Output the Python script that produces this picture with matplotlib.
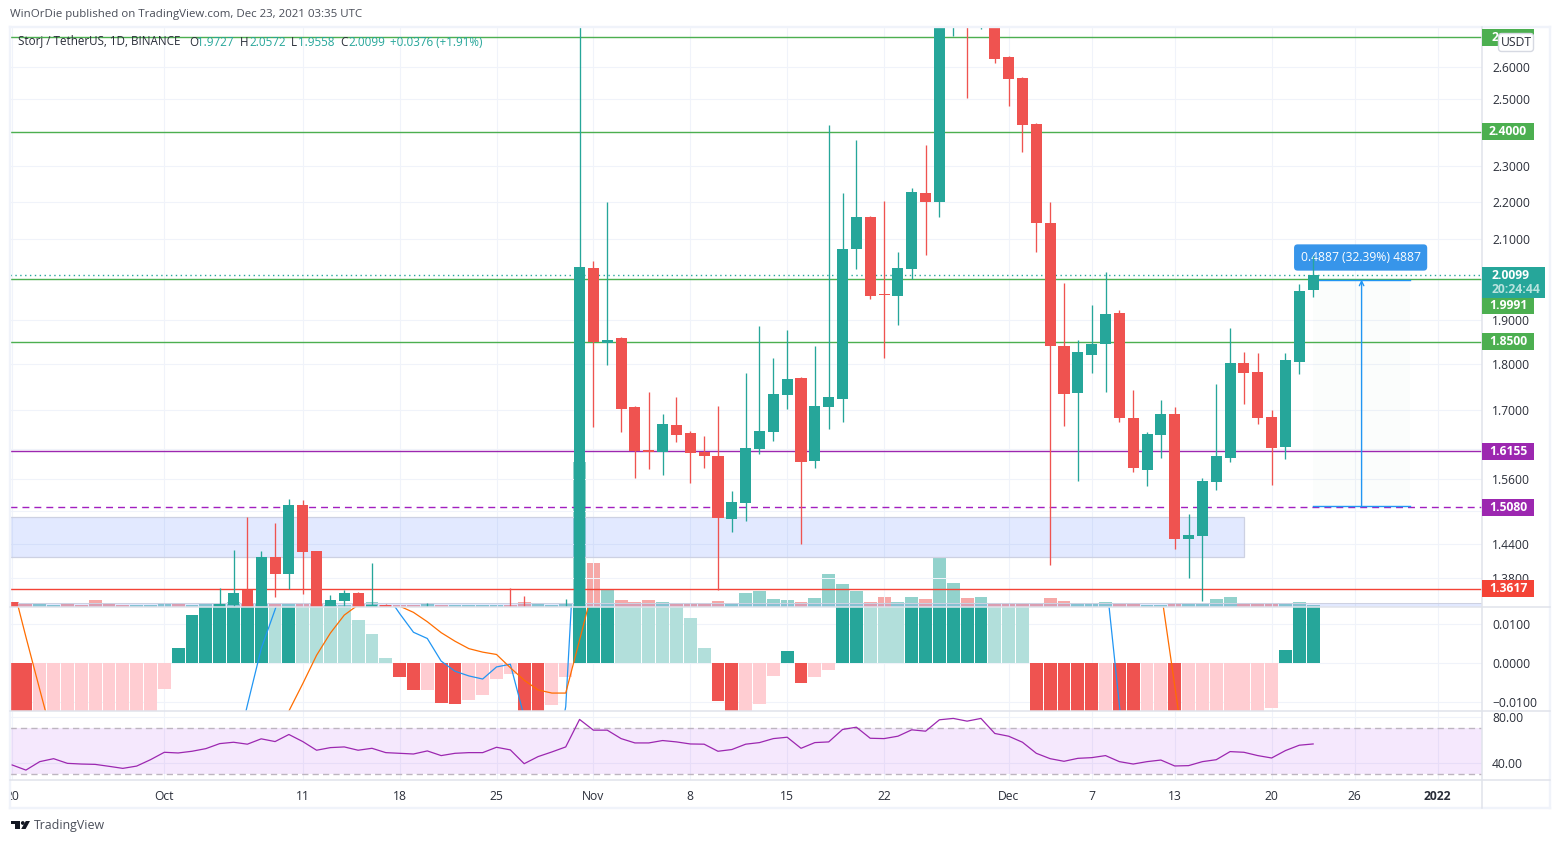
import numpy as np
import pandas as pd
import matplotlib
matplotlib.use('Agg')
import matplotlib.pyplot as plt
from matplotlib.lines import Line2D
from matplotlib.patches import Rectangle, Polygon, Circle, FancyBboxPatch
from matplotlib.ticker import NullLocator
from matplotlib.transforms import Affine2D, blended_transform_factory

plt.rcParams['font.family'] = ['Open Sans', 'DejaVu Sans']

# candles that show in the price pane (values under 1.33 sit below the pane)
candle_dates = (['2021-09-20']
                + list(pd.date_range('2021-10-05', '2021-10-17'))
                + ['2021-10-20', '2021-10-26', '2021-10-27', '2021-10-30', '2021-10-31']
                + list(pd.date_range('2021-11-01', '2021-12-23')))

opens = [1.340,
         1.31, 1.335, 1.360, 1.31, 1.417, 1.387, 1.511, 1.427, 1.32, 1.342, 1.355, 1.32, 1.335,
         1.31, 1.32, 1.32, 1.31, 1.32,
         2.027, 1.847, 1.858, 1.706, 1.618, 1.614, 1.668, 1.652, 1.614, 1.606,
         1.485, 1.515, 1.620, 1.654, 1.732, 1.769, 1.596, 1.706, 1.723, 2.075,
         2.159, 1.962, 1.957, 2.024, 2.224, 2.200, 2.78, 2.85, 2.78, 2.85,
         2.632, 2.565, 2.423, 2.143, 1.840, 1.736, 1.820, 1.845, 1.917, 1.683,
         1.578, 1.648, 1.691, 1.449, 1.454, 1.555, 1.602, 1.802, 1.782, 1.685,
         1.624, 1.804, 1.9727]
highs = [1.340,
         1.363, 1.429, 1.489, 1.427, 1.478, 1.522, 1.520, 1.428, 1.352, 1.360, 1.357, 1.406, 1.337,
         1.338, 1.363, 1.350, 1.345, 2.80,
         2.044, 2.200, 1.860, 1.708, 1.738, 1.691, 1.727, 1.656, 1.646, 1.708,
         1.538, 1.780, 1.886, 1.813, 1.877, 1.771, 1.840, 2.420, 2.224, 2.375,
         2.162, 2.202, 2.067, 2.238, 2.360, 2.90, 2.90, 2.90, 2.90, 2.90,
         2.636, 2.567, 2.426, 2.200, 1.989, 1.854, 1.936, 2.017, 1.924, 1.743,
         1.654, 1.721, 1.706, 1.494, 1.562, 1.755, 1.882, 1.826, 1.824, 1.700,
         1.824, 1.987, 2.0572]
lows = [1.30,
        1.30, 1.30, 1.30, 1.30, 1.348, 1.362, 1.353, 1.30, 1.30, 1.31, 1.30, 1.30, 1.30,
        1.30, 1.30, 1.30, 1.30, 1.30,
        1.665, 1.797, 1.654, 1.562, 1.580, 1.568, 1.634, 1.553, 1.582, 1.360,
        1.461, 1.481, 1.610, 1.636, 1.702, 1.440, 1.582, 1.660, 1.675, 2.024,
        1.950, 1.813, 1.889, 1.999, 2.060, 2.159, 2.701, 2.502, 2.725, 2.613,
        2.477, 2.340, 2.067, 1.403, 1.666, 1.557, 1.780, 1.738, 1.675, 1.574,
        1.547, 1.602, 1.431, 1.380, 1.342, 1.539, 1.594, 1.713, 1.671, 1.549,
        1.600, 1.778, 1.9558]
closes = [1.31,
          1.337, 1.355, 1.31, 1.417, 1.387, 1.511, 1.426, 1.31, 1.343, 1.355, 1.32, 1.335, 1.32,
          1.32, 1.31, 1.31, 1.32, 2.029,
          1.849, 1.854, 1.702, 1.616, 1.614, 1.671, 1.648, 1.612, 1.606, 1.487,
          1.517, 1.622, 1.656, 1.734, 1.766, 1.594, 1.708, 1.727, 2.075, 2.159,
          1.957, 1.960, 2.027, 2.227, 2.200, 2.85, 2.85, 2.78, 2.85, 2.626,
          2.561, 2.420, 2.143, 1.840, 1.734, 1.826, 1.845, 1.915, 1.683, 1.582,
          1.650, 1.691, 1.449, 1.456, 1.557, 1.606, 1.802, 1.780, 1.683, 1.622,
          1.808, 1.970, 2.0099]

# one value a day from Sep 20 to Dec 23
series_dates = pd.date_range('2021-09-20', '2021-12-23')
volume = [5, 3, 3, 2, 3, 2, 7, 3, 2, 2, 2,
          4, 3, 2, 3, 3, 5, 4, 3, 3, 4, 4, 4, 2, 2, 3, 5, 2, 2, 2, 3, 2, 2, 2, 2, 2, 2, 5, 3, 2, 4, 145,
          44, 18, 7, 5, 7, 5, 4, 4, 3, 6, 3, 14, 16, 8, 7, 5, 9, 33, 23, 16, 5, 10, 5, 10, 8, 49, 24, 9, 10, 4,
          4, 3, 3, 9, 6, 4, 3, 5, 3, 3, 2, 2, 3, 4, 4, 8, 10, 4, 3, 3, 4, 5, 2]
volume_dir = ('RRTTRRRRRTT'
              'TRTTTTRTRTRRTTRTRRRTRTTTTRRTTTT'
              'RTRRRTRRRRTTTTTRTTTTRRTTRTTRTR'
              'RRRRRTTTRRTTRTTTTRRRTTT')
macd_hist = [-.030, -.032, -.030, -.028, -.026, -.024, -.022, -.020, -.018, -.016, -.013,
             -.0066, .0039, .0124, .017, .021, .024, .027, .030, .028, .031, .028, .024, .020, .016, .0111,
             .0075, .0014, -.0035, -.0068, -.0067, -.0102, -.0103, -.0094, -.0081, -.004, -.0027,
             -.014, -.018, -.0107, -.0035, .020,
             .035, .040, .037, .034, .030, .026, .020, .0116, .0039, -.0097, -.014, -.0125, -.0104, -.0032,
             .0032, -.005, -.0035, -.0017, .016, .021, .019, .018, .017, .020, .024, .030, .034, .038, .042, .036,
             .028, .018, -.014, -.020, -.026, -.030, -.033, -.030, -.032, -.034, -.031, -.028, -.030, -.027,
             -.025, -.023, -.021, -.019, -.015, -.0115, .0034, .018, .022]
rsi = [38, 33.5, 40.9, 43.5, 39.4, 38.8, 38.5, 36.8, 35, 37, 42.6,
       49.1, 48.5, 50, 52.3, 56.7, 57.9, 56.2, 60.9, 58.5, 64.7, 58.5, 50.9, 53.2, 53.8, 50.9, 52.6,
       48.8, 48.2, 47.6, 50.3, 46.2, 48.2, 48.8, 48.8, 53.5, 51.2, 39.1, 45.3, 49.4, 53.8, 77.9,
       68.5, 68.5, 61.1, 57.3, 57.3, 59.4, 58.2, 56.4, 56.2, 50, 51.5, 56.2, 57.6, 61.1, 62.3, 52.6,
       57.6, 58.2, 69.1, 71.1, 61.4, 61.1, 63.2, 68.8, 67.6, 77.6, 78.8, 76.4, 78.8, 65.6,
       63.2, 57.9, 48.2, 43.5, 41.2, 43.8, 44.4, 46.2, 40.9, 38.8, 40.9, 42.3, 37.1, 37.4, 40.9,
       42.6, 49.7, 49.1, 46.2, 44.1, 50.6, 55.3, 56.4]

# macd and signal only show in pieces, the rest is far outside the pane
macd_pieces = [(['2021-10-06', '2021-10-07', '2021-10-08', '2021-10-09', '2021-10-10'],
                [-.0256, -.0107, .0038, .0138, .025]),
               (['2021-10-17', '2021-10-18', '2021-10-19', '2021-10-20', '2021-10-21', '2021-10-22',
                 '2021-10-23', '2021-10-24', '2021-10-25', '2021-10-26', '2021-10-27', '2021-10-28'],
                [.018, .0128, .0080, .0064, .0006, -.002, -.0032, -.004, -.0009, -.0002, -.0137, -.03]),
               (['2021-10-29', '2021-10-30', '2021-10-31'], [-.03, -.0111, .053]),
               (['2021-12-08', '2021-12-09', '2021-12-10'], [.0232, -.0106, -.0436])]
signal_pieces = [(['2021-09-20', '2021-09-21', '2021-09-22', '2021-09-23'],
                  [.0207, .0068, -.0067, -.0201]),
                 (['2021-10-08', '2021-10-09', '2021-10-10', '2021-10-11', '2021-10-12', '2021-10-13',
                   '2021-10-14', '2021-10-15'],
                  [-.03, -.0158, -.0122, -.0052, .0021, .0078, .0124, .0150]),
                 (['2021-10-17', '2021-10-18', '2021-10-19', '2021-10-20', '2021-10-21', '2021-10-22',
                   '2021-10-23', '2021-10-24', '2021-10-25', '2021-10-26', '2021-10-27', '2021-10-28',
                   '2021-10-29', '2021-10-30', '2021-10-31', '2021-11-01'],
                  [.022, .0147, .0131, .0107, .0079, .0057, .0038, .0029, .0023, -.0011, -.0043, -.0068,
                   -.0076, -.0076, .006, .0197]),
                 (['2021-12-12', '2021-12-13', '2021-12-14'], [.0189, -.0057, -.0303])]

price_ticks = [2.7, 2.6, 2.5, 2.4, 2.3, 2.2, 2.1, 2.0, 1.9, 1.8, 1.7, 1.62, 1.56, 1.5, 1.44, 1.38]
hidden_ticks = [2.7, 2.4, 2.0, 1.62, 1.5]  # sit under the level boxes
macd_ticks = [-0.01, 0.0, 0.01]
rsi_ticks = [40, 80]
time_ticks = ['2021-09-20', '2021-10-01', '2021-10-11', '2021-10-18', '2021-10-25', '2021-11-01',
              '2021-11-08', '2021-11-15', '2021-11-22', '2021-12-01', '2021-12-07', '2021-12-13',
              '2021-12-20', '2021-12-26', '2022-01-01']
time_labels = ['20', 'Oct', '11', '18', '25', 'Nov', '8', '15', '22', 'Dec', '7', '13', '20', '26', '2022']

green_levels = [2.6975, 2.4, 1.9991, 1.85]
purple_level = 1.6155
dashed_level = 1.508
red_level = 1.3617
last_close = 2.0099
zone_low, zone_high = 1.4167, 1.4887
range_low, range_high = 1.5089, 1.9976

TEAL = '#26a69a'
RED = '#ef5350'
GREEN = '#4caf50'
PURPLE = '#9c27b0'
LEVEL_RED = '#f44336'
BLUE = '#2196f3'
GRID = '#f0f3fa'
EDGE = '#e0e3eb'
TEXT = '#2a2e39'
FS = 8.7

base = pd.Timestamp('2021-10-01')


def to_x(dates):
    return np.array((pd.to_datetime(dates) - base).days, dtype=float)


fig = plt.figure(figsize=(15.6, 8.43), dpi=100, facecolor='white')
px = Affine2D().scale(1, -1).translate(0, 843)  # picture pixels, y going down


def pane(top, bottom):
    a = fig.add_axes([10 / 1560, 1 - bottom / 843, 1472 / 1560, (bottom - top) / 843])
    a.set_xlim(-11.15, 95.2)
    for s in a.spines.values():
        s.set_visible(False)
    a.set_xticks(to_x(time_ticks))
    a.tick_params(axis='x', length=0, labelbottom=False)
    a.tick_params(axis='y', length=0, pad=7.2, labelsize=FS, labelcolor=TEXT)
    a.yaxis.tick_right()
    a.grid(True, color=GRID, lw=0.75)
    a.set_axisbelow(True)
    return a


# volume sits under the price axes
ax_vol = pane(27.5, 607)
ax_vol.set_ylim(0, 579.5)
ax_vol.set_yticks([])
ax_vol.grid(False)
ax_vol.set_zorder(-2)
vol_x = to_x(series_dates)
vol_colors = [TEAL if c == 'T' else RED for c in volume_dir]
ax_vol.bar(vol_x, volume, width=0.93, color=vol_colors, alpha=0.5, lw=0)

ax = pane(27.5, 607)
ax.set_facecolor('none')
ax.set_yscale('log')
ax.set_ylim(1.3316, 2.7304)
ax.set_yticks(price_ticks)
ax.set_yticklabels(['' if t in hidden_ticks else '%.4f' % t for t in price_ticks])
ax.yaxis.set_minor_locator(NullLocator())
ax.set_zorder(-1)

trans = blended_transform_factory(ax.transAxes, ax.transData)
ax.add_patch(Rectangle((-11.15, zone_low), (1243.7 - 10) / 13.84, zone_high - zone_low,
                       fc=(0.16, 0.38, 1.0, 0.135), ec='#cdd1e2', lw=0.9, zorder=1.5))
ax.add_patch(Rectangle((0, 1.3316), 1, 1.339 - 1.3316, transform=trans,
                       fc=(0.16, 0.38, 1.0, 0.135), ec='#cdd1e2', lw=0.75, zorder=1.5))

# range tool
tool_x0, tool_x1, tool_arrow = 83, 90, 86.5
ax.add_patch(Rectangle((tool_x0, range_low), tool_x1 - tool_x0, range_high - range_low,
                       fc=(0.3, 0.65, 0.45, 0.02), lw=0, zorder=1.6))
ax.text((1360.5 - 164.3) / 13.84, 2.0533, '0.4887 (32.39%) 4887', color='white', fontsize=FS,
        ha='center', va='center', zorder=3.5,
        bbox=dict(boxstyle='round,pad=0.55,rounding_size=0.3', fc='#3795ea', ec='none'))

for lv in green_levels:
    ax.axhline(lv, color=GREEN, lw=1, zorder=2)
ax.axhline(purple_level, color=PURPLE, lw=1, zorder=2)
ax.axhline(dashed_level, color='#a21fc0', lw=1, ls=(0, (5, 3.6)), zorder=2)
ax.axhline(red_level, color=LEVEL_RED, lw=1, zorder=2)
ax.axhline(last_close, color=TEAL, lw=1, ls=(0, (1, 2.5)), zorder=2)

ax.plot([tool_x0, tool_x1], [range_high, range_high], color=BLUE, lw=1, zorder=2.2)
ax.plot([tool_x0, tool_x1], [range_low, range_low], color=BLUE, lw=1, zorder=2.2)
ax.annotate('', xy=(tool_arrow, range_high), xytext=(tool_arrow, range_low), zorder=2.2,
            arrowprops=dict(arrowstyle='->', color=BLUE, lw=1, shrinkA=0, shrinkB=0, mutation_scale=8))

cx = to_x(candle_dates)
o = np.array(opens)
h = np.array(highs)
l = np.array(lows)
c = np.array(closes)
colors = np.where(c >= o, TEAL, RED)
ax.vlines(cx, l, h, colors=colors, lw=0.95, zorder=4)
ax.bar(cx, np.abs(c - o), bottom=np.minimum(o, c), width=0.8, color=colors, lw=0, zorder=5)
ax.set_ylim(1.3316, 2.7304)

# macd pane
ax_macd = pane(607.3, 711)
ax_macd.set_ylim(-0.0122, 0.0144)
ax_macd.set_yticks(macd_ticks)
ax_macd.set_yticklabels(['\u22120.0100', '0.0000', '0.0100'])
hist = np.array(macd_hist)
rising = np.diff(hist, prepend=hist[0] + 0.001) > 0
hist_colors = [(TEAL if r else '#b2dfdb') if v >= 0 else ('#ffcdd2' if r else RED)
               for v, r in zip(hist, rising)]
ax_macd.bar(to_x(series_dates), hist, width=0.93, color=hist_colors, lw=0, zorder=2)
for days, vals in macd_pieces:
    ax_macd.plot(to_x(days), vals, color=BLUE, lw=0.9, zorder=3)
for days, vals in signal_pieces:
    ax_macd.plot(to_x(days), vals, color='#ff6d00', lw=0.9, zorder=3)

# rsi pane
ax_rsi = pane(711, 780)
ax_rsi.set_ylim(24.8, 85.3)
ax_rsi.set_yticks(rsi_ticks)
ax_rsi.set_yticklabels(['40.00', '80.00'])
ax_rsi.axhspan(30, 70, color='#a020f0', alpha=0.1, lw=0)
for lv in [30, 70]:
    ax_rsi.axhline(lv, color='#bdb5c0', lw=1, ls=(0, (4.5, 3)))
ax_rsi.plot(to_x(series_dates), rsi, color=PURPLE, lw=0.9)
ax_rsi.tick_params(axis='x', labelbottom=True, pad=7, labelsize=FS, labelcolor=TEXT)
ax_rsi.set_xticklabels(time_labels)
ax_rsi.get_xticklabels()[-1].set_fontweight('bold')


def box(x, y, w, hgt, color, z=2):
    fig.add_artist(Rectangle((x, y), w, hgt, transform=px, fc=color, ec='none', zorder=z))


def line(x0, y0, x1, y1, color=EDGE, lw=1.1, z=1.5):
    fig.add_artist(Line2D([x0, x1], [y0, y1], transform=px, color=color, lw=lw, zorder=z))


def label(x, y, s, color=TEXT, size=FS, ha='left', weight='normal', z=3):
    fig.text(x, y, s, transform=px, color=color, fontsize=size, ha=ha, va='center', weight=weight, zorder=z)


def price_y(p):
    return 843 - ax.transData.transform((0, p))[1]


# frame and pane separators
box(0, 780, 9.5, 30, 'white', 1.2)
for a in [(9.5, 27, 1550, 27), (9.5, 808, 1550, 808), (9.5, 27, 9.5, 808), (1550, 27, 1550, 808)]:
    line(*a, color=GRID, lw=1.7)
for y in [607.3, 711, 780]:
    line(10, y, 1550, y)
line(1482, 27, 1482, 808)

# price labels, the 1.9991 one is pushed down by the last price box
for p, txt, col, dy in [(2.4, '2.4000', GREEN, 0),
                        (1.9991, '1.9991', GREEN, 26.5), (1.85, '1.8500', GREEN, 0),
                        (purple_level, '1.6155', PURPLE, 0.7), (dashed_level, '1.5080', PURPLE, 1),
                        (red_level, '1.3617', LEVEL_RED, 0)]:
    y = price_y(p) + dy
    box(1482, y - 8.5, 52, 17, col)
    label(1508, y, txt, 'white', ha='center', weight='bold')
# the top level box is mostly under the USDT button
box(1482, price_y(green_levels[0]) - 8.5, 52, 17, GREEN)
label(1492, price_y(green_levels[0]), '2', 'white', weight='bold')
box(1482, 267, 63, 31, TEAL)
label(1492, 275.5, '2.0099', 'white', weight='bold')
label(1492, 289.5, '20:24:44', '#b9e3de', weight='bold')
fig.add_artist(FancyBboxPatch((1498.5, 33.5), 35, 18, boxstyle='round,pad=0,rounding_size=3', transform=px,
                              fc='white', ec='#d6d9e2', lw=1, zorder=4))
label(1516, 42.5, 'USDT', size=FS, ha='center', z=5)

# header and legend
label(10, 15, 'WinOrDie published on TradingView.com, Dec 23, 2021 03:35 UTC', '#4a4e59', size=8.27)
label(18, 42, 'Storj / TetherUS, 1D, BINANCE', size=8.35)
for x, s in [(189, 'O'), (240, 'H'), (291, 'L'), (340, 'C')]:
    label(x, 42, s, size=8.35)
for x, s in [(197, '1.9727'), (249, '2.0572'), (298, '1.9558'), (348, '2.0099'), (390, '+0.0376 (+1.91%)')]:
    label(x, 42, s, TEAL, size=8.35)

# logo
fig.add_artist(Polygon([(11, 821), (20.3, 821), (20.3, 829), (15, 829), (15, 823.7), (11, 823.7)],
                       transform=px, fc='#131722', ec='none'))
fig.add_artist(Circle((22.8, 823), 1.9, transform=px, fc='#131722', ec='none'))
fig.add_artist(Polygon([(25.8, 821), (30, 821), (25.6, 829), (21.2, 829)],
                       transform=px, fc='#131722', ec='none'))
label(34, 825.7, 'TradingView', '#4a4e59', size=8.9)

fig.savefig('out.png', dpi=100)
